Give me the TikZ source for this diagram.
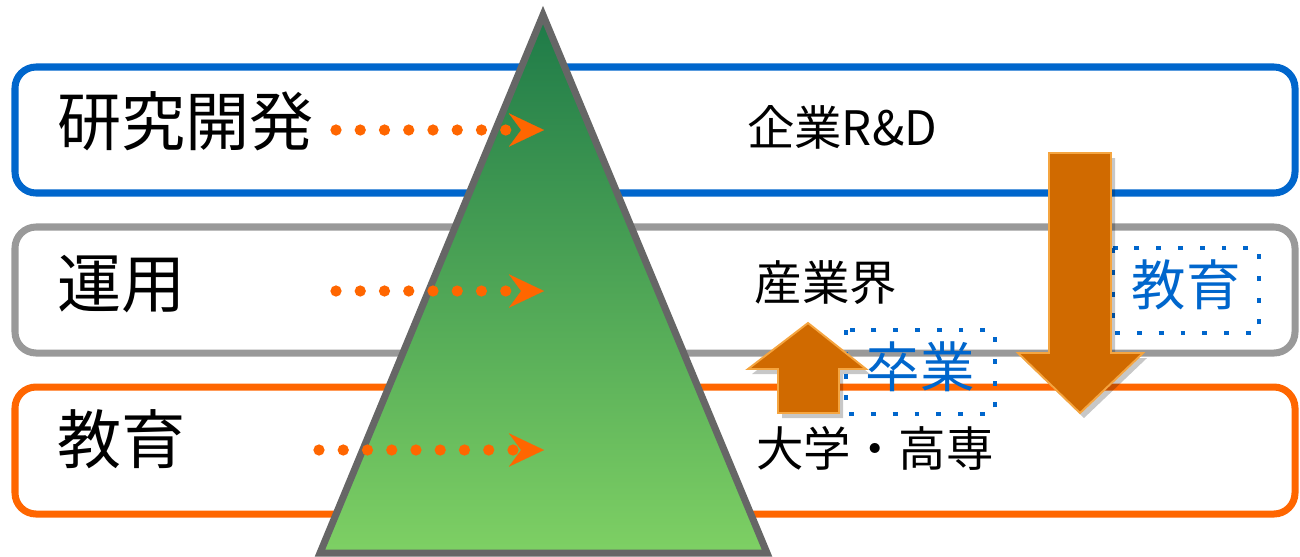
\documentclass[tikz,border=0pt]{standalone}
\usepackage{fontspec}
\setmainfont{Noto Sans CJK JP}
\usetikzlibrary{arrows.meta}
\definecolor{boxblue}{HTML}{0066CC}
\definecolor{boxgray}{HTML}{999999}
\definecolor{boxorange}{HTML}{FF6600}
\definecolor{tridark}{HTML}{1E7A48}
\definecolor{trilight}{HTML}{7ED064}
\definecolor{triedge}{HTML}{666666}
\definecolor{arrfill}{HTML}{D06A00}
\definecolor{arrlight}{HTML}{F5A540}
\definecolor{dotcol}{HTML}{FF6600}
\definecolor{labblue}{HTML}{0066CC}
\begin{document}
\begin{tikzpicture}[x=0.02cm,y=-0.02cm,
  layerbox/.style={line width=4pt, rounded corners=12pt},
  dotline/.style={draw=dotcol, line width=6.4pt, line cap=round,
     dash pattern=on 0pt off 13.8pt,
     -{Stealth[length=20pt,width=19pt,inset=7pt,line width=0.1pt,fill=dotcol]}},
  bigtext/.style={font=\fontsize{36.5}{40}\selectfont, anchor=west, inner sep=0pt},
  midtext/.style={font=\fontsize{27}{32}\selectfont, inner sep=0pt},
  bluetext/.style={font=\fontsize{31}{36}\selectfont, text=labblue, inner sep=0pt},
  dotbox/.style={draw=labblue, line width=2.8pt, dash pattern=on 2.8pt off 9.6pt},
  bigarrow/.style={fill=arrfill, draw=arrlight, line width=1.1pt, line join=miter},
  arrshadow/.style={fill=black, opacity=0.22}
]
\useasboundingbox (0,0) rectangle (1300,556);
\begin{scope}
\clip (0,0) rectangle (1300,556);
% layer boxes
\draw[layerbox, draw=boxblue] (15,67) rectangle (1295,193);
\draw[layerbox, draw=boxgray] (15,227) rectangle (1295,353);
\draw[layerbox, draw=boxorange] (15,387) rectangle (1295,514);
% triangle
\coordinate (apex) at (543,15);
\coordinate (bl) at (320,553);
\coordinate (br) at (767,553);
\shade[top color=tridark, bottom color=trilight] (apex) -- (br) -- (bl) -- cycle;
\draw[draw=triedge, line width=4pt, line join=miter] (apex) -- (br) -- (bl) -- cycle;
\end{scope}
% dotted arrows
\coordinate (d1s) at (336,130); \coordinate (d1e) at (544,130);
\coordinate (d2s) at (336,291); \coordinate (d2e) at (544,291);
\coordinate (d3s) at (319,450); \coordinate (d3e) at (544,450);
\draw[dotline] (d1s) -- (d1e);
\draw[dotline] (d2s) -- (d2e);
\draw[dotline] (d3s) -- (d3e);
% left labels
\node[bigtext] (rd) at (57,121) {研究開発};
\node[bigtext] (ops) at (57,284) {運用};
\node[bigtext] (edu) at (57,439) {教育};
% right labels
\node[midtext] (corp) at (842,127) {企業R\&D};
\node[midtext] (ind) at (826,283) {産業界};
\node[midtext] (univ) at (875,448) {大学・高専};
% blue dotted boxes
\draw[dotbox] (846,330) rectangle (995,414);
\draw[dotbox] (1113,248) rectangle (1259,333);
\node[bluetext] (grad) at (920,367) {卒業};
\node[bluetext] (edu2) at (1186,285) {教育};
% shadows of big arrows
\fill[arrshadow] (1053,158) -- (1115,158) -- (1115,358) -- (1147,358) -- (1084,418) -- (1022,358) -- (1053,358) -- cycle;
\fill[arrshadow] (782,418) -- (843,418) -- (843,374) -- (870,374) -- (812,328) -- (752,374) -- (782,374) -- cycle;
% big arrows
\draw[bigarrow] (1049,153) -- (1111,153) -- (1111,353) -- (1143,353) -- (1080,413) -- (1018,353) -- (1049,353) -- cycle;
\draw[bigarrow] (778,413) -- (839,413) -- (839,369) -- (866,369) -- (808,323) -- (748,369) -- (778,369) -- cycle;
\end{tikzpicture}
\end{document}
